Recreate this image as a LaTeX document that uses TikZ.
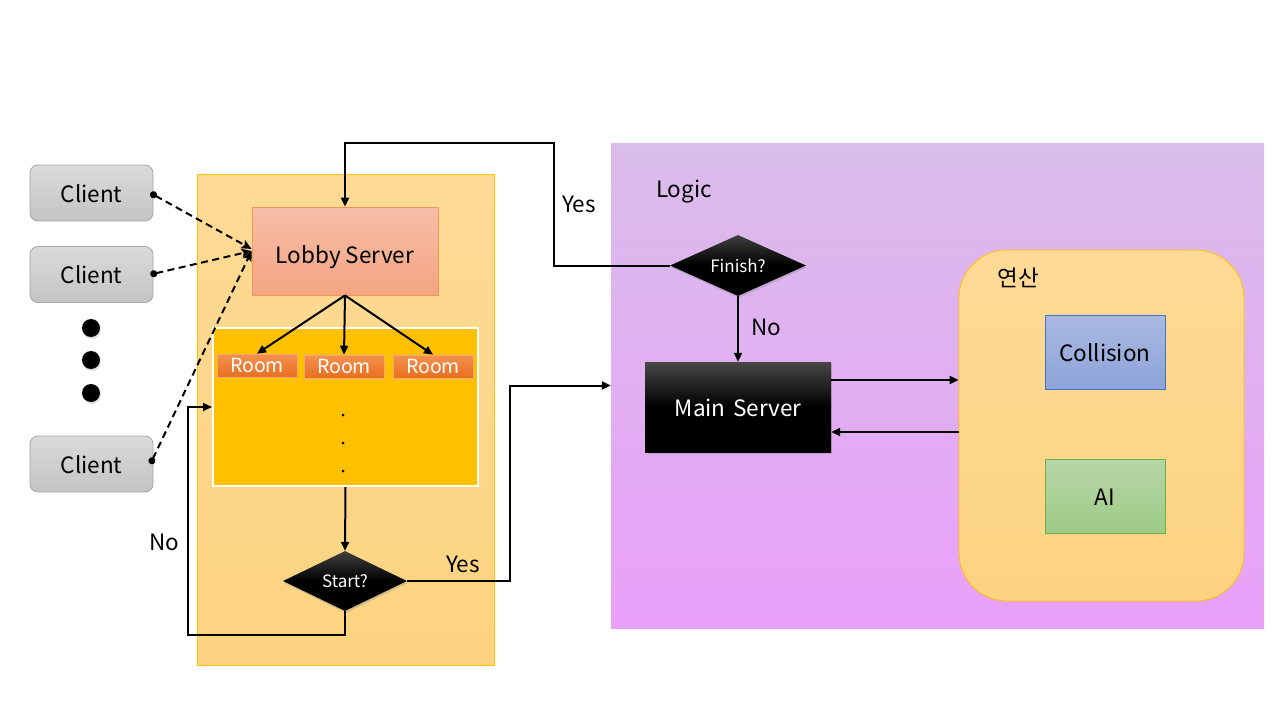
\documentclass[tikz,border=0pt]{standalone}
\usepackage{fontspec}
\setmainfont{Noto Sans CJK KR}
\usetikzlibrary{arrows.meta,shapes.geometric,shadows,calc}
\definecolor{clientT}{RGB}{218,218,218}
\definecolor{clientB}{RGB}{196,196,196}
\definecolor{clientD}{RGB}{165,165,165}
\definecolor{panelT}{RGB}{254,218,150}
\definecolor{panelB}{RGB}{252,211,128}
\definecolor{panelD}{RGB}{255,192,0}
\definecolor{lobbyT}{RGB}{247,190,168}
\definecolor{lobbyB}{RGB}{244,164,130}
\definecolor{lobbyD}{RGB}{237,125,49}
\definecolor{roomsF}{RGB}{255,192,0}
\definecolor{roomT}{RGB}{244,145,80}
\definecolor{roomB}{RGB}{232,110,30}
\definecolor{logicT}{RGB}{217,189,234}
\definecolor{logicB}{RGB}{233,160,250}
\definecolor{colT}{RGB}{170,184,226}
\definecolor{colB}{RGB}{140,164,216}
\definecolor{colD}{RGB}{68,114,196}
\definecolor{aiT}{RGB}{183,214,168}
\definecolor{aiB}{RGB}{157,203,134}
\definecolor{aiD}{RGB}{112,173,71}
\tikzset{
  every node/.style={font=\fontsize{22.5}{26}\selectfont},
  tx/.style={text height=22pt, text depth=4pt},
  client/.style={tx, rounded corners=8pt, draw=clientD, line width=0.8pt, shading=axis, top color=clientT, bottom color=clientB, minimum width=123pt, minimum height=56pt, inner sep=0pt},
  bigdot/.style={circle, fill=black, minimum size=18pt, inner sep=0pt, drop shadow={opacity=0.25, shadow xshift=1pt, shadow yshift=-2pt}},
  roombox/.style={draw=roomT!80!white, line width=0.6pt, shading=axis, top color=roomT, bottom color=roomB, minimum width=80pt, minimum height=23pt, inner sep=0pt, text=white, font=\fontsize{19.5}{21}\selectfont},
  decision/.style={diamond, aspect=2, inner sep=0pt, shading=axis, top color=black!75, bottom color=black, middle color=black, text=white, font=\fontsize{17}{19}\selectfont, drop shadow={opacity=0.3, shadow xshift=1pt, shadow yshift=-2pt}},
  arr/.style={line width=2pt, -{Triangle[length=9pt, width=8pt]}},
  dasharr/.style={line width=2pt, dash pattern=on 7pt off 4.5pt, {Circle[length=7pt, width=7pt]}-{Stealth[length=10pt, width=9pt, inset=2pt]}},
  lbl/.style={tx, text=black},
}
\begin{document}
\begin{tikzpicture}[x=1pt, y=-1pt]
\useasboundingbox (0,0) rectangle (1280,720);
% panels
\node[draw=panelD, line width=0.8pt, shading=axis, top color=panelT, bottom color=panelB, minimum width=297pt, minimum height=491pt, inner sep=0pt] (lobbypanel) at (345.5,419.5) {};
\node[shading=axis, top color=logicT, bottom color=logicB, minimum width=653pt, minimum height=485pt, inner sep=0pt] (logic) at (937.5,385.5) {};
\node[draw=panelD, line width=0.8pt, rounded corners=48pt, shading=axis, top color=panelT, bottom color=panelB, minimum width=285pt, minimum height=351pt, inner sep=0pt] (calc) at (1101.5,425.5) {};
\node[lbl] (logiclbl) at (684,188) {Logic};
\node[lbl] (calclbl) at (1018,277) {연산};
% clients
\node[client] (c1) at (91.5,193) {Client};
\node[client] (c2) at (91.5,274.5) {Client};
\node[client] (c3) at (91.5,464) {Client};
\node[bigdot] (d1) at (91,328) {};
\node[bigdot] (d2) at (91,360) {};
\node[bigdot] (d3) at (91,393) {};
% lobby
\node[text height=28pt, text depth=4pt, draw=lobbyD!80, line width=0.8pt, shading=axis, top color=lobbyT, bottom color=lobbyB, minimum width=186pt, minimum height=88pt, inner sep=0pt] (lobby) at (345,251) {Lobby Server};
\node[draw=white, line width=2pt, fill=roomsF, minimum width=265pt, minimum height=158pt, inner sep=0pt] (rooms) at (345.5,407) {};
\node[roombox] (r1) at (257,365.5) {Room};
\node[roombox] (r2) at (344,366.5) {Room};
\node[roombox] (r3) at (433,366.5) {Room};
\node[circle, fill=black, minimum size=3pt, inner sep=0pt] (p1) at (343,415) {};
\node[circle, fill=black, minimum size=3pt, inner sep=0pt] (p2) at (343,443) {};
\node[circle, fill=black, minimum size=3pt, inner sep=0pt] (p3) at (343,471) {};
\node[decision, minimum width=124pt, minimum height=60pt] (start) at (345,581) {Start?};
% logic
\node[decision, minimum width=136pt, minimum height=61pt] (finish) at (738,265.5) {Finish?};
\node[tx, shading=axis, top color=black!72, bottom color=black, middle color=black, minimum width=186pt, minimum height=90pt, inner sep=0pt, text=white, drop shadow={opacity=0.3, shadow xshift=1pt, shadow yshift=-2pt}] (main) at (738,407) {Main\,\,Server};
\node[tx, draw=colD, line width=0.8pt, shading=axis, top color=colT, bottom color=colB, minimum width=120pt, minimum height=74pt, inner sep=0pt] (col) at (1105,352) {Collision};
\node[tx, draw=aiD, line width=0.8pt, shading=axis, top color=aiT, bottom color=aiB, minimum width=120pt, minimum height=74pt, inner sep=0pt] (ai) at (1105,496) {AI};
% client connectors
\draw[dasharr] ([xshift=-3pt]c1.east) -- ([yshift=2pt]lobby.west);
\draw[dasharr] ([xshift=-3pt]c2.east) -- (lobby.west);
\draw[dasharr] ([xshift=-3pt]c3.east) -- (lobby.west);
% lobby to rooms
\draw[arr] (lobby.south) -- (r1.north);
\draw[arr] (lobby.south) -- (r2.north);
\draw[arr] (lobby.south) -- (r3.north);
\draw[arr] (rooms.south) -- (start.north);
% No loop
\coordinate (nocorner) at (188,635);
\draw[arr] (start.south) |- (nocorner) |- (rooms.west);
\node[lbl] (nolbl) at (164,541) {No};
% Yes to logic
\coordinate (yescorner) at (510,581);
\draw[arr] (start.east) -- (yescorner) |- (logic.west);
\node[lbl] (yeslbl) at (463,563) {Yes};
% Finish yes
\coordinate (fincorner) at (554,143);
\draw[arr] (finish.west) -| (fincorner) -| (lobby.north);
\node[lbl] (yes2lbl) at (579,203) {Yes};
% Finish no
\draw[arr] (finish.south) -- (main.north);
\node[lbl] (no2lbl) at (766,326) {No};
% main <-> calc
\coordinate (m1) at ([yshift=27pt]main.east);
\coordinate (m2) at ([yshift=-25pt]main.east);
\draw[arr] (m1) -- (m1 -| calc.west);
\draw[arr] (m2 -| calc.west) -- (m2);
\end{tikzpicture}
\end{document}
